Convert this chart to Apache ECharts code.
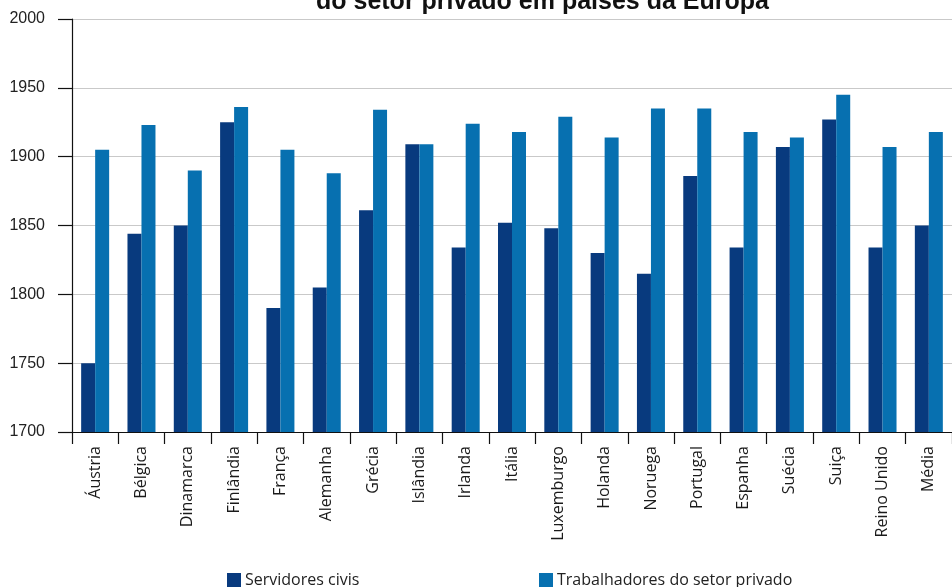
<!DOCTYPE html>
<html>
<head>
<meta charset="utf-8">
<script src="https://cdn.jsdelivr.net/npm/echarts@6/dist/echarts.min.js"></script>
<style>html,body{margin:0;padding:0;background:#fff;}#c{width:952px;height:587px;}</style>
</head>
<body>
<div id="c"></div>
<script>
var categories = ['Áustria','Bélgica','Dinamarca','Finlândia','França','Alemanha','Grécia','Islândia','Irlanda','Itália','Luxemburgo','Holanda','Noruega','Portugal','Espanha','Suécia','Suiça','Reino Unido','Média'];
var servidoresCivis = [1750,1844,1850,1925,1790,1805,1861,1909,1834,1852,1848,1830,1815,1886,1834,1907,1927,1834,1850];
var trabalhadoresPrivado = [1905,1923,1890,1936,1905,1888,1934,1909,1924,1918,1929,1914,1935,1935,1918,1914,1945,1907,1918];
var yTicks = [1700,1750,1800,1850,1900,1950,2000];
var seriesNames = ['Servidores civis','Trabalhadores do setor privado'];
var titleText = 'do setor privado em países da Europa';

var chart = echarts.init(document.getElementById('c'), null, {renderer:'canvas'});
chart.setOption({
  animation: false,
  backgroundColor: '#fff',
  title: {
    text: titleText,
    left: 311, top: -15,
    textStyle: {fontFamily: 'Liberation Sans, Arial', fontWeight: 'bold', fontSize: 25, color: '#111'}
  },
  legend: [{
    data: [seriesNames[0]], left: 227, top: 572, padding: 0,
    icon: 'rect', itemWidth: 14, itemHeight: 14, itemGap: 6,
    textStyle: {fontFamily: 'Open Sans', fontSize: 16, color: '#222', padding: [0,0,0,-1]}
  },{
    data: [seriesNames[1]], left: 539, top: 572, padding: 0,
    icon: 'rect', itemWidth: 14, itemHeight: 14, itemGap: 6,
    textStyle: {fontFamily: 'Open Sans', fontSize: 16, color: '#222', padding: [0,0,0,-1]}
  }],
  grid: {left: 72, top: 19, width: 887, height: 413, containLabel: false},
  xAxis: {
    type: 'category', data: categories,
    axisLine: {lineStyle: {color: '#111', width: 1.2}},
    axisTick: {show: true, length: 12, lineStyle: {color: '#111', width: 1.2}},
    axisLabel: {rotate: 90, margin: 14, fontFamily: 'Open Sans', fontSize: 16, color: '#1a1a1a', interval: 0}
  },
  yAxis: {
    type: 'value', min: 1700, max: 2000, interval: 50,
    axisLine: {show: true, lineStyle: {color: '#111', width: 1.2}},
    axisTick: {show: true, length: 14, lineStyle: {color: '#111', width: 1.2}},
    axisLabel: {margin: 27, fontFamily: 'Liberation Sans, Arial', fontSize: 16, color: '#222',
      formatter: function(v){ return yTicks.indexOf(v) >= 0 ? String(v) : ''; }},
    splitLine: {show: true, lineStyle: {color: '#c9c9c9', width: 1}}
  },
  series: [{
    name: seriesNames[0], type: 'bar', data: servidoresCivis,
    barWidth: 14, barGap: '0%', itemStyle: {color: '#083a7e'}
  },{
    name: seriesNames[1], type: 'bar', data: trabalhadoresPrivado,
    barWidth: 14, barGap: '0%', itemStyle: {color: '#0770b0'}
  }]
});
</script>
</body>
</html>
